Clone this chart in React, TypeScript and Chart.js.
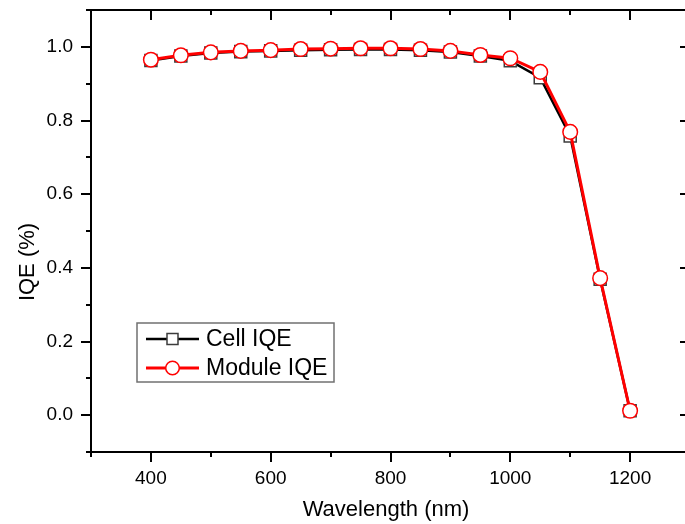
import React, { useEffect, useRef } from 'react';
import { Chart, registerables } from 'chart.js';

Chart.register(...registerables);

const wavelengths = [400, 450, 500, 550, 600, 650, 700, 750, 800, 850, 900, 950, 1000, 1050, 1100, 1150, 1200];
const cellIQE = [0.963, 0.975, 0.983, 0.987, 0.989, 0.991, 0.992, 0.993, 0.993, 0.991, 0.986, 0.975, 0.962, 0.916, 0.758, 0.369, 0.012];
const moduleIQE = [0.965, 0.977, 0.985, 0.989, 0.991, 0.994, 0.995, 0.996, 0.996, 0.994, 0.989, 0.978, 0.969, 0.932, 0.769, 0.372, 0.012];
const seriesLabels = ['Cell IQE', 'Module IQE'];
const xMajorTicks = [400, 600, 800, 1000, 1200];
const xMinorTicks = [300, 500, 700, 900, 1100, 1300];
const yMajorTicks = [0.0, 0.2, 0.4, 0.6, 0.8, 1.0];
const yMinorTicks = [-0.1, 0.1, 0.3, 0.5, 0.7, 0.9, 1.1];
const xTitle = 'Wavelength (nm)';
const yTitle = 'IQE (%)';

const FONT = '"Liberation Sans", Arial, sans-serif';

const framePlugin = {
  id: 'frameTicks',
  afterDraw(chart: any) {
    const { ctx, chartArea, scales } = chart;
    const { left, right, top, bottom } = chartArea;
    const x = scales.x;
    const y = scales.y;
    ctx.save();
    ctx.strokeStyle = '#000';
    ctx.lineWidth = 2;
    ctx.lineCap = 'butt';
    ctx.beginPath();
    ctx.moveTo(left - 1, top);
    ctx.lineTo(right + 1, top);
    ctx.moveTo(right, top);
    ctx.lineTo(right, bottom);
    xMinorTicks.forEach((v) => {
      const px = Math.round(x.getPixelForValue(v));
      ctx.moveTo(px, bottom);
      ctx.lineTo(px, bottom + 5);
      ctx.moveTo(px, top);
      ctx.lineTo(px, top + 5);
    });
    xMajorTicks.forEach((v) => {
      const px = Math.round(x.getPixelForValue(v));
      ctx.moveTo(px, top);
      ctx.lineTo(px, top + 10);
    });
    yMinorTicks.forEach((v) => {
      const py = Math.round(y.getPixelForValue(v));
      ctx.moveTo(left, py);
      ctx.lineTo(left - 5, py);
      ctx.moveTo(right, py);
      ctx.lineTo(right - 5, py);
    });
    yMajorTicks.forEach((v) => {
      const py = Math.round(y.getPixelForValue(v));
      ctx.moveTo(right, py);
      ctx.lineTo(right - 10, py);
    });
    ctx.stroke();

    ctx.fillStyle = '#000';
    ctx.font = `22px ${FONT}`;
    ctx.textAlign = 'center';
    ctx.textBaseline = 'middle';
    ctx.fillText(xTitle, 386, 510);
    ctx.translate(28, 262);
    ctx.rotate(-Math.PI / 2);
    ctx.fillText(yTitle, 0, 0);
    ctx.restore();
  },
};

const legendPlugin = {
  id: 'lineLegend',
  afterDraw(chart: any) {
    const { ctx } = chart;
    const ds = chart.data.datasets;
    const bx = 137, by = 323, bw = 197, bh = 59;
    ctx.save();
    ctx.fillStyle = '#fff';
    ctx.fillRect(bx, by, bw, bh);
    ctx.strokeStyle = '#707070';
    ctx.lineWidth = 1.5;
    ctx.strokeRect(bx, by, bw, bh);
    const rows = [339, 368];
    ds.forEach((d: any, i: number) => {
      const cy = rows[i];
      ctx.strokeStyle = d.borderColor;
      ctx.lineWidth = d.borderWidth;
      ctx.beginPath();
      ctx.moveTo(146, cy);
      ctx.lineTo(199, cy);
      ctx.stroke();
      ctx.fillStyle = '#fff';
      ctx.strokeStyle = d.pointBorderColor;
      ctx.lineWidth = d.pointBorderWidth;
      ctx.beginPath();
      if (d.pointStyle === 'rect') {
        ctx.rect(172.5 - 5.5, cy - 5.5, 11, 11);
      } else {
        ctx.arc(172.5, cy, 6.8, 0, Math.PI * 2);
      }
      ctx.fill();
      ctx.stroke();
      ctx.fillStyle = '#000';
      ctx.font = `23px ${FONT}`;
      ctx.textAlign = 'left';
      ctx.textBaseline = 'middle';
      ctx.fillText(d.label, 206, cy + 1);
    });
    ctx.restore();
  },
};

export default function App() {
  const canvasRef = useRef<HTMLCanvasElement | null>(null);

  useEffect(() => {
    const canvas = canvasRef.current;
    if (!canvas) return;
    const chart = new Chart(canvas, {
      type: 'line',
      data: {
        datasets: [
          {
            label: seriesLabels[0],
            data: wavelengths.map((w, i) => ({ x: w, y: cellIQE[i] })),
            borderColor: '#000000',
            borderWidth: 2.5,
            pointStyle: 'rect',
            pointRadius: 8.5,
            pointBackgroundColor: '#ffffff',
            pointBorderColor: '#3c3c3c',
            pointBorderWidth: 1.5,
            tension: 0,
            order: 1,
          },
          {
            label: seriesLabels[1],
            data: wavelengths.map((w, i) => ({ x: w, y: moduleIQE[i] })),
            borderColor: '#ff0000',
            borderWidth: 3,
            pointStyle: 'circle',
            pointRadius: 7.3,
            pointBackgroundColor: '#ffffff',
            pointBorderColor: '#ff0000',
            pointBorderWidth: 1.5,
            tension: 0,
            order: 0,
          },
        ],
      },
      options: {
        responsive: false,
        animation: false,
        devicePixelRatio: 1,
        layout: { padding: { top: 7, right: 9, left: 0, bottom: 0 } },
        plugins: {
          legend: { display: false },
          tooltip: { enabled: false },
        },
        scales: {
          x: {
            type: 'linear',
            min: 300,
            max: 1300,
            afterBuildTicks: (s: any) => {
              s.ticks = xMajorTicks.map((v) => ({ value: v }));
            },
            afterFit: (s: any) => {
              s.height = 72;
              s.paddingLeft = 0;
              s.paddingRight = 0;
            },
            grid: {
              drawOnChartArea: false,
              drawTicks: true,
              tickLength: 10,
              tickWidth: 2,
              tickColor: '#000',
              color: '#000',
              lineWidth: 2,
            },
            border: { display: true, color: '#000', width: 2 },
            ticks: {
              color: '#000',
              font: { family: FONT, size: 19 },
              padding: 5,
              maxRotation: 0,
              callback: (v: any) => String(v),
            },
            title: { display: false, text: xTitle },
          },
          y: {
            type: 'linear',
            min: -0.1,
            max: 1.1,
            afterBuildTicks: (s: any) => {
              s.ticks = yMajorTicks.map((v) => ({ value: v }));
            },
            afterFit: (s: any) => {
              s.width = 91;
              s.paddingTop = 0;
              s.paddingBottom = 0;
            },
            grid: {
              drawOnChartArea: false,
              drawTicks: true,
              tickLength: 10,
              tickWidth: 2,
              tickColor: '#000',
              color: '#000',
              lineWidth: 2,
            },
            border: { display: true, color: '#000', width: 2 },
            ticks: {
              color: '#000',
              font: { family: FONT, size: 19 },
              padding: 8,
              callback: (v: any) => Number(v).toFixed(1),
            },
            title: { display: false, text: yTitle },
          },
        },
      },
      plugins: [framePlugin, legendPlugin],
    } as any);
    return () => chart.destroy();
  }, []);

  return (
    <div style={{ position: 'fixed', left: 0, top: 0, width: 685, height: 524, overflow: 'hidden', background: '#fff' }}>
      <canvas ref={canvasRef} width={700} height={524} style={{ display: 'block', width: 700, height: 524 }} />
    </div>
  );
}
